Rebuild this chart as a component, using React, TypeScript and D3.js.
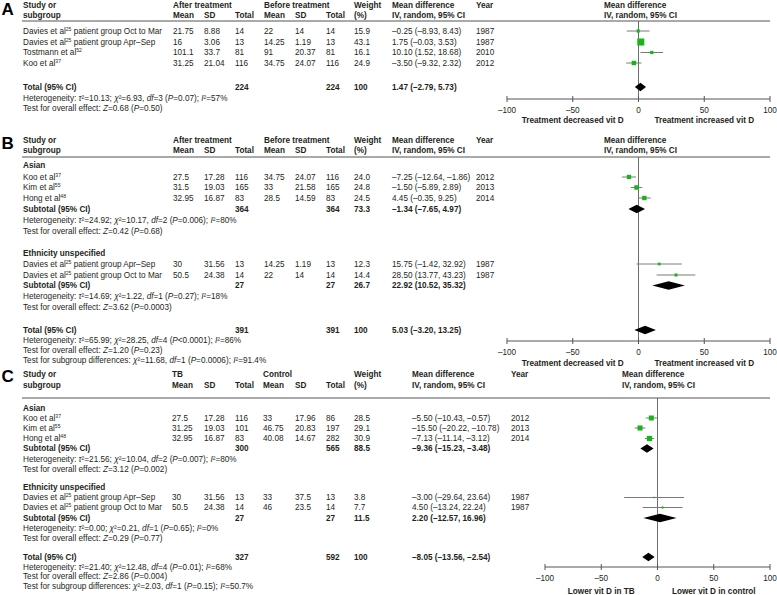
import React from "react";
import * as d3 from "d3";

const FONT = "'Liberation Sans', Arial, Helvetica, sans-serif";
const INK = "#231f20";
const FS = 8.2;

// ---------- Panel A ----------
const aNames = [
  "Davies et al^25^ patient group Oct to Mar",
  "Davies et al^25^ patient group Apr–Sep",
  "Tostmann et al^52^",
  "Koo et al^37^",
];
const aGroup = [0, 0, 0, 0];
const aGroupTitles: string[] = [];
const aExpMean = [21.75, 16, 101.1, 31.25];
const aExpSD = [8.88, 3.06, 33.7, 21.04];
const aExpN = [14, 13, 81, 116];
const aCtlMean = [22, 14.25, 91, 34.75];
const aCtlSD = [14, 1.19, 20.37, 24.07];
const aCtlN = [14, 13, 81, 116];
const aWeight = [15.9, 43.1, 16.1, 24.9];
const aMD = [-0.25, 1.75, 10.1, -3.5];
const aLo = [-8.93, -0.03, 1.52, -9.32];
const aHi = [8.43, 3.53, 18.68, 2.32];
const aYear = [1987, 1987, 2010, 2012];
const aTotalN = [224, 224];
const aTotalEst = [1.47, -2.79, 5.73];
const aTotalNotes = [
  "Heterogeneity: _τ_²=10.13; _χ_²=6.93, _df_=3 (_P_=0.07); _I_²=57%",
  "Test for overall effect: _Z_=0.68 (_P_=0.50)",
];

// ---------- Panel B ----------
const bNames = [
  "Koo et al^37^",
  "Kim et al^55^",
  "Hong et al^48^",
  "Davies et al^25^ patient group Apr–Sep",
  "Davies et al^25^ patient group Oct to Mar",
];
const bGroup = [0, 0, 0, 1, 1];
const bGroupTitles = ["Asian", "Ethnicity unspecified"];
const bExpMean = [27.5, 31.5, 32.95, 30, 50.5];
const bExpSD = [17.28, 19.03, 16.87, 31.56, 24.38];
const bExpN = [116, 165, 83, 13, 14];
const bCtlMean = [34.75, 33, 28.5, 14.25, 22];
const bCtlSD = [24.07, 21.58, 14.59, 1.19, 14];
const bCtlN = [116, 165, 83, 13, 14];
const bWeight = [24.0, 24.8, 24.5, 12.3, 14.4];
const bMD = [-7.25, -1.5, 4.45, 15.75, 28.5];
const bLo = [-12.64, -5.89, -0.35, -1.42, 13.77];
const bHi = [-1.86, 2.89, 9.25, 32.92, 43.23];
const bYear = [2012, 2013, 2014, 1987, 1987];
const bSubN1 = [364, 27];
const bSubN2 = [364, 27];
const bSubW = [73.3, 26.7];
const bSubMD = [-1.34, 22.92];
const bSubLo = [-7.65, 10.52];
const bSubHi = [4.97, 35.32];
const bSubNotes = [
  [
    "Heterogeneity: _τ_²=24.92; _χ_²=10.17, _df_=2 (_P_=0.006); _I_²=80%",
    "Test for overall effect: _Z_=0.42 (_P_=0.68)",
  ],
  [
    "Heterogeneity: _τ_²=14.69; _χ_²=1.22, _df_=1 (_P_=0.27); _I_²=18%",
    "Test for overall effect: _Z_=3.62 (_P_=0.0003)",
  ],
];
const bTotalN = [391, 391];
const bTotalEst = [5.03, -3.2, 13.25];
const bTotalNotes = [
  "Heterogeneity: _τ_²=65.99; _χ_²=28.25, _df_=4 (_P_<0.0001); _I_²=86%",
  "Test for overall effect: _Z_=1.20 (_P_=0.23)",
  "Test for subgroup differences: _χ_²=11.68, _df_=1 (_P_=0.0006); _I_²=91.4%",
];

// ---------- Panel C ----------
const cNames = [
  "Koo et al^37^",
  "Kim et al^55^",
  "Hong et al^48^",
  "Davies et al^25^ patient group Apr–Sep",
  "Davies et al^25^ patient group Oct to Mar",
];
const cGroup = [0, 0, 0, 1, 1];
const cGroupTitles = ["Asian", "Ethnicity unspecified"];
const cExpMean = [27.5, 31.25, 32.95, 30, 50.5];
const cExpSD = [17.28, 19.03, 16.87, 31.56, 24.38];
const cExpN = [116, 101, 83, 13, 14];
const cCtlMean = [33, 46.75, 40.08, 33, 46];
const cCtlSD = [17.96, 20.83, 14.67, 37.5, 23.5];
const cCtlN = [86, 197, 282, 13, 14];
const cWeight = [28.5, 29.1, 30.9, 3.8, 7.7];
const cMD = [-5.5, -15.5, -7.13, -3.0, 4.5];
const cLo = [-10.43, -20.22, -11.14, -29.64, -13.24];
const cHi = [-0.57, -10.78, -3.12, 23.64, 22.24];
const cYear = [2012, 2013, 2014, 1987, 1987];
const cSubN1 = [300, 27];
const cSubN2 = [565, 27];
const cSubW = [88.5, 11.5];
const cSubMD = [-9.36, 2.2];
const cSubLo = [-15.23, -12.57];
const cSubHi = [-3.48, 16.96];
const cSubNotes = [
  [
    "Heterogeneity: _τ_²=21.56; _χ_²=10.04, _df_=2 (_P_=0.007); _I_²=80%",
    "Test for overall effect: _Z_=3.12 (_P_=0.002)",
  ],
  [
    "Heterogeneity: _τ_²=0.00; _χ_²=0.21, _df_=1 (_P_=0.65); _I_²=0%",
    "Test for overall effect: _Z_=0.29 (_P_=0.77)",
  ],
];
const cTotalN = [327, 592];
const cTotalEst = [-8.05, -13.56, -2.54];
const cTotalNotes = [
  "Heterogeneity: _τ_²=21.40; _χ_²=12.48, _df_=4 (_P_=0.01); _I_²=68%",
  "Test for overall effect: _Z_=2.86 (_P_=0.004)",
  "Test for subgroup differences: _χ_²=2.03, _df_=1 (_P_=0.15); _I_²=50.7%",
];

const axisTicks = [-100, -50, 0, 50, 100];

// ---------- helpers ----------
const f2 = (v: number) => d3.format(".2f")(v).replace("−", "–").replace("-", "–");
const f1 = (v: number) => d3.format(".1f")(v);
const f0 = (v: number) => String(v).replace("-", "–");
const ci = (m: number, l: number, h: number) => `${f2(m)} (${f2(l)}, ${f2(h)})`;

function Rich({ x, y, s, bold = false, anchor = "start", size = FS }: any) {
  const parts: { t: string; it: boolean; sup: boolean }[] = [];
  let cur = "";
  let it = false;
  let sup = false;
  const flush = () => {
    if (cur) parts.push({ t: cur, it, sup });
    cur = "";
  };
  for (const ch of s) {
    if (ch === "_") {
      flush();
      it = !it;
    } else if (ch === "^") {
      flush();
      sup = !sup;
    } else cur += ch;
  }
  flush();
  let prev = false;
  return (
    <text
      x={x}
      y={y + size * 0.36}
      fontSize={size}
      fontWeight={bold ? "bold" : "normal"}
      textAnchor={anchor}
      fill={INK}
    >
      {parts.map((p, i) => {
        let dy = 0;
        if (p.sup && !prev) dy = -3;
        if (!p.sup && prev) dy = 3;
        prev = p.sup;
        return (
          <tspan
            key={i}
            dy={dy || undefined}
            fontStyle={p.it ? "italic" : undefined}
            fontSize={p.sup ? size * 0.62 : undefined}
          >
            {p.t}
          </tspan>
        );
      })}
    </text>
  );
}

function Panel({ spec, d }: any) {
  const x = d3.scaleLinear().domain([-100, 100]).range(spec.plotRange);
  const sq = d3.scaleLinear().domain([0, 50]).range([1, 8]);
  const cx = spec.colX;
  const els: any[] = [];
  const LX = 23;

  const diamond = (y: number, m: number, l: number, h: number, key: string) => (
    <path
      key={key}
      d={`M${x(l)},${y}L${x(m)},${y - 4.3}L${x(h)},${y}L${x(m)},${y + 4.3}Z`}
      fill="#000"
    />
  );

  els.push(
    <text key="letter" x={1.5} y={spec.letterY} fontSize={17} fontWeight="bold" fill="#000">
      {spec.letter}
    </text>
  );
  const H = (key: string, xx: number, y: number, s: string) => (
    <Rich key={key} x={xx} y={y} s={s} bold />
  );
  els.push(H("h1", LX, spec.h1, "Study or"));
  els.push(H("h2", LX, spec.h2, "subgroup"));
  els.push(H("g1", spec.groupHeadX[0], spec.h1, spec.groupHead[0]));
  els.push(H("g2", spec.groupHeadX[1], spec.h1, spec.groupHead[1]));
  ["Mean", "SD", "Total", "Mean", "SD", "Total"].forEach((t, i) =>
    els.push(H("sh" + i, cx[i], spec.h2, t))
  );
  els.push(H("w1", cx[6], spec.h1, "Weight"));
  els.push(H("w2", cx[6], spec.h2, "(%)"));
  els.push(H("m1", cx[7], spec.h1, "Mean difference"));
  els.push(H("m2", cx[7], spec.h2, "IV, random, 95% CI"));
  els.push(H("yr", cx[8], spec.h1, "Year"));
  els.push(H("p1", spec.plotHeadX, spec.h1, "Mean difference"));
  els.push(H("p2", spec.plotHeadX, spec.h2, "IV, random, 95% CI"));
  els.push(
    <line key="hl" x1={22} x2={770} y1={spec.line} y2={spec.line} stroke="#555" strokeWidth={1} />
  );
  els.push(
    <line key="zl" x1={x(0)} x2={x(0)} y1={spec.line} y2={spec.axisY} stroke="#6d6d6d" strokeWidth={1} />
  );

  const counters: number[] = spec.sections.map(() => 0);
  d.names.forEach((nm: string, i: number) => {
    const g = d.group[i];
    const y = spec.sections[g].studyYs[counters[g]++];
    els.push(<Rich key={"n" + i} x={LX} y={y} s={nm} />);
    const vals = [d.em[i], d.esd[i], d.en[i], d.cm[i], d.csd[i], d.cn[i]];
    vals.forEach((v: number, j: number) =>
      els.push(<Rich key={`v${i}_${j}`} x={cx[j]} y={y} s={String(v)} />)
    );
    els.push(<Rich key={"w" + i} x={cx[6]} y={y} s={f1(d.w[i])} />);
    els.push(<Rich key={"md" + i} x={cx[7]} y={y} s={ci(d.md[i], d.lo[i], d.hi[i])} />);
    els.push(<Rich key={"yr" + i} x={cx[8]} y={y} s={String(d.year[i])} />);
    els.push(
      <line key={"ci" + i} x1={x(d.lo[i])} x2={x(d.hi[i])} y1={y} y2={y} stroke="#7a7a7a" strokeWidth={1} />
    );
    const s = sq(d.w[i]);
    els.push(
      <rect key={"sq" + i} x={x(d.md[i]) - s / 2} y={y - s / 2} width={s} height={s} fill="#19b419" />
    );
  });

  spec.sections.forEach((sec: any, g: number) => {
    if (sec.titleY != null)
      els.push(<Rich key={"st" + g} x={LX} y={sec.titleY} s={d.groupTitles[g]} bold />);
    if (sec.subY != null) {
      const y = sec.subY;
      els.push(<Rich key={"sub" + g} x={LX} y={y} s="Subtotal (95% CI)" bold />);
      els.push(<Rich key={"sn1" + g} x={cx[2]} y={y} s={String(d.subN1[g])} bold />);
      els.push(<Rich key={"sn2" + g} x={cx[5]} y={y} s={String(d.subN2[g])} bold />);
      els.push(<Rich key={"sw" + g} x={cx[6]} y={y} s={f1(d.subW[g])} bold />);
      els.push(
        <Rich key={"smd" + g} x={cx[7]} y={y} s={ci(d.subMD[g], d.subLo[g], d.subHi[g])} bold />
      );
      els.push(diamond(y, d.subMD[g], d.subLo[g], d.subHi[g], "sd" + g));
      sec.noteYs.forEach((ny: number, k: number) =>
        els.push(<Rich key={`sno${g}_${k}`} x={LX} y={ny} s={d.subNotes[g][k]} />)
      );
    }
  });

  const ty = spec.totalY;
  els.push(<Rich key="tot" x={LX} y={ty} s="Total (95% CI)" bold />);
  els.push(<Rich key="tn1" x={cx[2]} y={ty} s={String(d.totalN[0])} bold />);
  els.push(<Rich key="tn2" x={cx[5]} y={ty} s={String(d.totalN[1])} bold />);
  els.push(<Rich key="tw" x={cx[6]} y={ty} s="100" bold />);
  els.push(
    <Rich key="tmd" x={cx[7]} y={ty} s={ci(d.totalEst[0], d.totalEst[1], d.totalEst[2])} bold />
  );
  els.push(diamond(ty, d.totalEst[0], d.totalEst[1], d.totalEst[2], "td"));
  spec.totalNoteYs.forEach((ny: number, k: number) =>
    els.push(<Rich key={"tno" + k} x={LX} y={ny} s={d.totalNotes[k]} />)
  );

  const ay = spec.axisY;
  els.push(
    <line key="ax" x1={x(-100)} x2={x(100)} y1={ay} y2={ay} stroke="#555" strokeWidth={1} />
  );
  axisTicks.forEach((t) => {
    els.push(
      <line key={"tk" + t} x1={x(t)} x2={x(t)} y1={ay - 3} y2={ay + 3} stroke="#555" strokeWidth={1} />
    );
    els.push(<Rich key={"tl" + t} x={x(t)} y={ay + 11} s={f0(t)} anchor="middle" />);
  });
  els.push(
    <Rich key="dl0" x={x(-50)} y={ay + spec.dirDy} s={spec.dirLabels[0]} anchor="middle" bold />
  );
  els.push(
    <Rich key="dl1" x={x(50)} y={ay + spec.dirDy} s={spec.dirLabels[1]} anchor="middle" bold />
  );
  return <g>{els}</g>;
}

const specA = {
  letter: "A",
  letterY: 15,
  h1: 5,
  h2: 15,
  line: 21,
  colX: [173, 204, 235, 264, 295, 326, 354, 392, 476],
  plotHeadX: 604,
  groupHead: ["After treatment", "Before treatment"],
  groupHeadX: [173, 264],
  plotRange: [507, 770],
  axisY: 99,
  dirDy: 21,
  dirLabels: ["Treatment decreased vit D", "Treatment increased vit D"],
  sections: [{ titleY: null, studyYs: [31, 42, 52.5, 63], subY: null, noteYs: [] }],
  totalY: 87,
  totalNoteYs: [98, 108.5],
};
const specB = {
  letter: "B",
  letterY: 149,
  h1: 140.5,
  h2: 150.5,
  line: 157,
  colX: [173, 204, 235, 264, 295, 326, 354, 392, 476],
  plotHeadX: 604,
  groupHead: ["After treatment", "Before treatment"],
  groupHeadX: [173, 264],
  plotRange: [507, 770],
  axisY: 341,
  dirDy: 22,
  dirLabels: ["Treatment decreased vit D", "Treatment increased vit D"],
  sections: [
    { titleY: 165, studyYs: [177, 187.5, 198], subY: 209, noteYs: [220.5, 231] },
    { titleY: 253, studyYs: [264, 275], subY: 285.5, noteYs: [296.5, 307.5] },
  ],
  totalY: 330,
  totalNoteYs: [340, 350, 360],
};
const specC = {
  letter: "C",
  letterY: 382,
  h1: 374,
  h2: 385,
  line: 398,
  colX: [172, 204, 235, 263, 295, 326, 354, 412, 511],
  plotHeadX: 622,
  groupHead: ["TB", "Control"],
  groupHeadX: [172, 263],
  plotRange: [545, 770],
  axisY: 567,
  dirDy: 24,
  dirLabels: ["Lower vit D in TB", "Lower vit D in control"],
  sections: [
    { titleY: 408, studyYs: [418, 428, 438.5], subY: 448.5, noteYs: [459, 469] },
    { titleY: 487, studyYs: [497.5, 507.5], subY: 518, noteYs: [528, 538] },
  ],
  totalY: 557,
  totalNoteYs: [567, 576.5, 586],
};

const dataA = {
  names: aNames, group: aGroup, groupTitles: aGroupTitles,
  em: aExpMean, esd: aExpSD, en: aExpN, cm: aCtlMean, csd: aCtlSD, cn: aCtlN,
  w: aWeight, md: aMD, lo: aLo, hi: aHi, year: aYear,
  totalN: aTotalN, totalEst: aTotalEst, totalNotes: aTotalNotes,
};
const dataB = {
  names: bNames, group: bGroup, groupTitles: bGroupTitles,
  em: bExpMean, esd: bExpSD, en: bExpN, cm: bCtlMean, csd: bCtlSD, cn: bCtlN,
  w: bWeight, md: bMD, lo: bLo, hi: bHi, year: bYear,
  subN1: bSubN1, subN2: bSubN2, subW: bSubW, subMD: bSubMD, subLo: bSubLo, subHi: bSubHi,
  subNotes: bSubNotes,
  totalN: bTotalN, totalEst: bTotalEst, totalNotes: bTotalNotes,
};
const dataC = {
  names: cNames, group: cGroup, groupTitles: cGroupTitles,
  em: cExpMean, esd: cExpSD, en: cExpN, cm: cCtlMean, csd: cCtlSD, cn: cCtlN,
  w: cWeight, md: cMD, lo: cLo, hi: cHi, year: cYear,
  subN1: cSubN1, subN2: cSubN2, subW: cSubW, subMD: cSubMD, subLo: cSubLo, subHi: cSubHi,
  subNotes: cSubNotes,
  totalN: cTotalN, totalEst: cTotalEst, totalNotes: cTotalNotes,
};

export default function App() {
  return (
    <svg
      width={777}
      height={595}
      style={{ position: "absolute", left: 0, top: 0, background: "#fff" }}
      fontFamily={FONT}
    >
      <rect width={777} height={595} fill="#fff" />
      <Panel spec={specA} d={dataA} />
      <Panel spec={specB} d={dataB} />
      <Panel spec={specC} d={dataC} />
    </svg>
  );
}
